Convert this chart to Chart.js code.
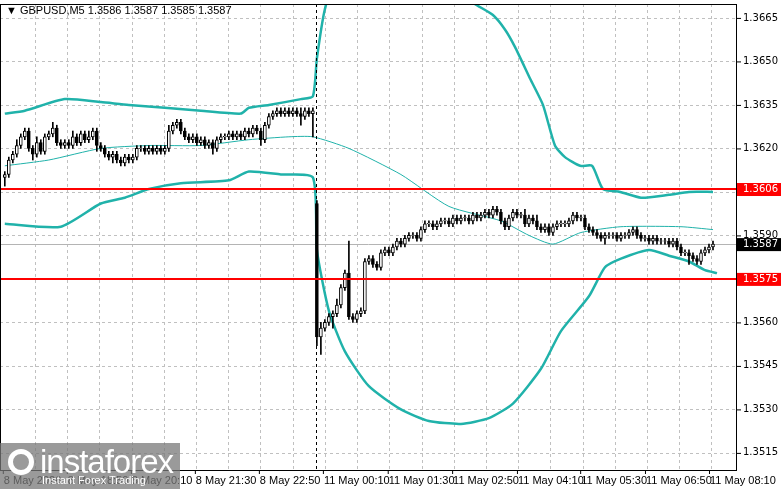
<!DOCTYPE html>
<html><head><meta charset="utf-8">
<script src="https://cdn.jsdelivr.net/npm/chart.js@4"></script>
<style>
html,body{margin:0;padding:0;background:#fff;overflow:hidden}
#wrap{position:relative;width:781px;height:489px}
#hdr{position:absolute;left:6px;top:4px;font:11px "Liberation Sans",Arial,sans-serif;color:#000;z-index:2}
#logo{position:absolute;left:0;top:443px;width:180px;height:46px;background:rgba(120,120,120,0.75);z-index:3;color:#fff;font-family:"Liberation Sans",Arial,sans-serif}
#logo .a{position:absolute;left:40px;top:0px;font-size:33px;letter-spacing:-1px}
#logo .b{position:absolute;left:42px;top:31px;font-size:11px}
#logo .g{position:absolute;left:8px;top:6px;width:26px;height:26px;border:5px solid #fff;border-radius:50%;box-sizing:border-box}
</style></head><body>
<div id="wrap">
<div id="hdr">▼ GBPUSD,M5 1.3586 1.3587 1.3585 1.3587</div>
<div id="logo"><div class="g"></div><div class="a">instaforex</div><div class="b">Instant Forex Trading</div></div>
<canvas id="c" width="781" height="489"></canvas>
</div>
<script>
// close prices in pips above 1.3500
const closePips = [111,116,118,121,124,126,120,118,122,119,124,125,127,122,121,122,121,124,122,125,
123,124,126,121,120,118,117,118,116,115,117,116,117,120,120,119,120,119,120,119,
120,126,128,129,126,124,123,124,122,123,121,122,120,123,124,124,125,124,125,124,
126,125,127,126,123,128,131,132,133,132,133,132,133,132,131,133,132,133,
55,58,60,62,63,66,72,77,62,61,63,64,81,82,80,79,84,85,84,86,
88,87,89,90,90,89,92,94,94,93,94,95,95,94,96,95,96,96,95,97,
96,97,98,97,99,98,95,93,96,98,97,97,94,96,95,93,92,93,91,93,
94,94,94,95,97,96,96,93,92,91,90,89,90,90,90,89,90,90,91,92,
90,89,89,88,89,88,88,88,87,88,86,84,84,83,82,81,84,85,86,87];
const gapOpens = {0:110, 78:101};
const wickUp = [1,1,1,2,1,1,1,1,2,1, 1,1,2,1,1,1,1,2,1,1, 1,2,1,1,1,1,1,1,1,1, 1,1,1,1,1,1,1,1,1,1,
1,2,1,1,1,1,1,1,1,1, 1,1,1,1,1,1,1,1,1,1, 1,1,1,1,1,1,1,1,1,1, 1,1,1,1,2,1,1,1,
1,2,1,1,1,2,1,1,11,1, 1,1,1,1,1,1,1,1,1,1, 1,1,1,1,1,1,1,1,1,1, 1,1,1,1,1,1,1,1,1,1,
1,1,1,1,1,1,1,1,1,1, 1,1,2,1,1,2,1,1,1,1, 1,1,1,1,1,1,1,1,1,1, 1,1,1,1,1,1,1,1,1,1,
1,1,1,1,1,1,1,1,1,1, 1,1,1,1,1,1,1,1,1,1, 1,1,1,1];
const wickDn = [3,1,1,1,1,1,1,2,1,1, 1,1,1,1,1,1,1,1,1,1, 1,1,1,2,1,1,1,2,1,1, 1,1,1,1,1,1,1,1,1,1,
1,1,1,1,1,1,1,1,1,1, 1,1,2,1,1,1,1,1,1,1, 1,1,1,1,2,1,1,1,1,1, 1,1,1,1,3,1,1,8,
3,6,1,1,4,1,1,1,1,1, 1,1,1,1,1,1,1,1,1,1, 1,1,1,1,1,1,1,1,1,1, 1,1,1,1,1,1,1,1,1,1,
1,1,1,1,1,1,1,1,1,1, 1,1,1,1,1,1,1,1,1,1, 1,1,1,1,1,1,1,1,1,1, 1,1,2,1,1,1,1,1,1,1,
1,1,1,1,1,1,1,1,1,1, 1,1,1,3,1,1,1,1,1,1, 1,1,1,1];
// Bollinger bands: [barIndex, price]
const bandUpper = [[0,1.3632],[5,1.3633],[15,1.3637],[24,1.3636],[31,1.3635],[49,1.3633],[59,1.3632],[61,1.3634],[66,1.3635],[74,1.3637],[77,1.3638],
[78,1.3651],[80,1.3668],[85,1.3690],[100,1.3708],[110,1.3690],[114,1.3674],[117.3,1.3670],[122,1.3666],[125,1.3661],[127.5,1.3655],[131.3,1.3644],[134.5,1.3635],[137.5,1.3621],[140,1.3617],[143.8,1.3614],[146.8,1.3614],[149.5,1.3606],[153.8,1.3605],[159,1.3603],[166,1.3604],[171,1.3605],[177,1.3605]];
const bandMid = [[0,1.3614],[11,1.3616],[24,1.3620],[36,1.3621],[49,1.3621],[61,1.3623],[71,1.3624],[77,1.3624],
[86,1.3620],[99,1.3611],[111,1.3600],[124,1.3595],[131,1.3590],[137,1.3587],[144,1.3591],[154,1.3593],[169,1.3593],[177,1.3592]];
const bandLower = [[0,1.3594],[14,1.3593],[24,1.3601],[30,1.3603],[36,1.3606],[44,1.3608],[56,1.3609],[61,1.3612],[69,1.3611],[77,1.3610],
[78,1.3585],[81,1.3564],[85,1.3550],[91,1.3538],[99,1.3530],[106,1.3526],[114,1.3525],[121,1.3527],[127,1.3532],[134,1.3544],[139,1.3557],[146,1.3569],[150,1.3579],[154,1.3582],[161,1.3585],[166,1.3583],[171,1.3581],[175,1.3578],[178,1.3577]];
const priceTicks = [1.3665,1.3650,1.3635,1.3620,1.3605,1.3590,1.3575,1.3560,1.3545,1.3530,1.3515];
const levels = [1.3606,1.3575];
const bid = 1.3587;
const timeLabels = [[-0.5,"8 May 2026"],[15.5,"8 May 18:50"],[31.5,"8 May 20:10"],[47.5,"8 May 21:30"],[63.5,"8 May 22:50"],[79.5,"11 May 00:10"],[95.7,"11 May 01:30"],[111.8,"11 May 02:50"],[128,"11 May 04:10"],[143.8,"11 May 05:30"],[160,"11 May 06:50"],[176,"11 May 08:10"]];
const separatorAt = 77.8;

const P = v => 1.35 + v/10000;
const bodies=[], wicks=[], bodyCol=[];
closePips.forEach((c,i)=>{
  const o = (i in gapOpens) ? gapOpens[i] : closePips[i-1];
  const hi = Math.max(o,c)+wickUp[i], lo = Math.min(o,c)-wickDn[i];
  const b0 = Math.min(o,c), b1 = Math.max(o,c);
  bodies.push({x:i, y:[P(b0-0.001), P(b1===b0? b0+0.15 : b1)]});
  wicks.push({x:i, y:[P(lo),P(hi)]});
  bodyCol.push(c<o ? '#000' : '#fff');
});
const toXY = a => a.map(p=>({x:p[0],y:p[1]}));
const bandDs = (d,w)=>({type:'line',data:toXY(d),borderColor:'#20b2aa',borderWidth:w,pointRadius:0,tension:0.2,order:3});

const overlay = {
  id:'ov',
  beforeDatasetsDraw(ch){
    const {ctx,chartArea:a,scales:{x,y}}=ch;
    ctx.save();
    ctx.setLineDash([3,3]);ctx.strokeStyle='#c0c0c0';ctx.lineWidth=1;
    for(let t=7.55;t<183;t+=8.05){const px=Math.round(x.getPixelForValue(t))+0.5;ctx.beginPath();ctx.moveTo(px,a.top);ctx.lineTo(px,a.bottom);ctx.stroke();}
    priceTicks.forEach(p=>{const py=Math.round(y.getPixelForValue(p))+0.5;ctx.beginPath();ctx.moveTo(a.left,py);ctx.lineTo(a.right,py);ctx.stroke();});
    ctx.setLineDash([]);
    ctx.strokeStyle='#b4b4b4';const by=Math.round(y.getPixelForValue(bid))+0.5;ctx.beginPath();ctx.moveTo(a.left,by);ctx.lineTo(a.right,by);ctx.stroke();
    ctx.restore();
  },
  afterDatasetsDraw(ch){
    const {ctx,chartArea:a,scales:{x,y}}=ch;
    ctx.save();
    ctx.setLineDash([3,3]);ctx.strokeStyle='#000';
    const sx=Math.round(x.getPixelForValue(separatorAt))+0.5;
    ctx.beginPath();ctx.moveTo(sx,a.top);ctx.lineTo(sx,a.bottom);ctx.stroke();
    ctx.setLineDash([]);
    ctx.strokeStyle='#ff0000';ctx.lineWidth=2;
    levels.forEach(l=>{const py=y.getPixelForValue(l);ctx.beginPath();ctx.moveTo(a.left,py);ctx.lineTo(a.right,py);ctx.stroke();});
    ctx.lineWidth=1;ctx.strokeStyle='#000';
    ctx.strokeRect(a.left+0.5,a.top+0.5,a.right-a.left-1,a.bottom-a.top);
    ctx.font='10px "DejaVu Sans"';ctx.textBaseline='middle';
    priceTicks.forEach(p=>{const py=y.getPixelForValue(p);ctx.fillStyle='#000';ctx.fillRect(a.right,py,4,1);ctx.fillText(p.toFixed(4),a.right+6,py);});
    const tag=(p,bg)=>{const py=y.getPixelForValue(p);ctx.fillStyle=bg;ctx.fillRect(a.right,py-6,44,13);ctx.fillStyle='#fff';ctx.fillText(p.toFixed(4),a.right+6,py+0.5);};
    levels.forEach(l=>tag(l,'#ff0000'));tag(bid,'#000');
    ctx.fillStyle='#000';ctx.textBaseline='top';ctx.textAlign='left';
    ctx.font='11px "Liberation Sans"';
    timeLabels.forEach(t=>{const px=x.getPixelForValue(t[0]);ctx.fillRect(px,a.bottom,1,4);ctx.fillText(t[1],px+1,a.bottom+5);});
    ctx.restore();
  }
};

new Chart(document.getElementById('c'),{
  type:'bar',
  data:{datasets:[
    bandDs(bandUpper,2.5),bandDs(bandMid,1),bandDs(bandLower,2.5),
    {type:'bar',data:wicks,backgroundColor:'#000',barThickness:1,grouped:false,order:2},
    {type:'bar',data:bodies,backgroundColor:bodyCol,borderColor:'#000',borderWidth:1,borderSkipped:false,barThickness:3,grouped:false,order:1}
  ]},
  options:{
    responsive:false,animation:false,events:[],
    layout:{padding:{top:4,left:0,right:0,bottom:0}},
    plugins:{legend:{display:false},tooltip:{enabled:false}},
    scales:{
      x:{type:'linear',min:-1.2,max:183,offset:false,bounds:'ticks',grace:0,grid:{display:false,offset:false},ticks:{display:false},border:{display:false},
         afterFit(s){s.height=19;}},
      y:{position:'right',min:1.35091,max:1.36698,grid:{display:false},ticks:{display:false},border:{display:false},
         afterFit(s){s.width=44;}}
    }
  },
  plugins:[overlay]
});
</script>
</body></html>
